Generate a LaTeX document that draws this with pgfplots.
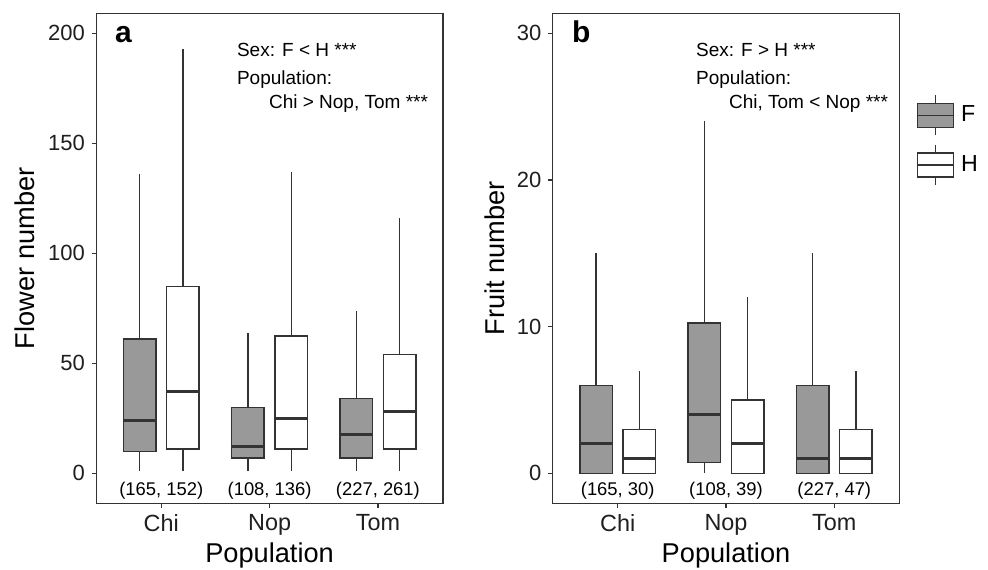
\documentclass[border=0pt]{standalone}
\usepackage{fontspec}
\setmainfont{Liberation Sans}
\usepackage{pgfplots}
\pgfplotsset{compat=1.18}
\usepgfplotslibrary{statistics}

\definecolor{Fgray}{HTML}{999999}
\definecolor{edge}{HTML}{333333}

\tikzset{
  ntext/.style={font=\fontsize{9.2}{11}\selectfont, anchor=center},
  note/.style={font=\fontsize{9.5}{11}\selectfont, anchor=base west},
}

\pgfplotsset{
  panel/.style={
    width=173.3pt, height=245pt, scale only axis,
    xmin=0.4, xmax=3.6,
    xtick={1,2,3}, xticklabels={Chi,Nop,Tom},
    tick align=outside, xtick pos=bottom, ytick pos=left,
    major tick length=2.2pt,
    tick style={edge, line width=0.6pt},
    axis line style={edge, line width=0.75pt},
    /pgf/number format/assume math mode=true,
    yticklabel style={font=\fontsize{11}{13}\selectfont, text=black!88},
    xticklabel style={font=\fontsize{11.7}{14}\selectfont, text=black!88},
    label style={font=\fontsize{13.6}{16}\selectfont},
    xlabel={Population},
    xlabel style={at={(axis description cs:0.5,-0.121)}, anchor=base},
    boxplot/draw direction=y,
    boxplot/box extend=0.3,
    boxplot/whisker extend=0,
    boxplot/every median/.style={line width=1.5pt},
    clip=false,
  },
  Fbox/.style={draw=edge, fill=Fgray, line width=0.75pt, forget plot},
  Hbox/.style={draw=edge, fill=white, line width=0.75pt, forget plot},
  Fkey/.style={legend image code/.code={
      \draw[line width=0.75pt, draw=edge, fill=Fgray] (0pt,-6pt) rectangle (18pt,6pt);
      \draw[line width=0.75pt, draw=edge] (0pt,0pt) -- (18pt,0pt)
        (9pt,6pt) -- (9pt,10pt) (9pt,-6pt) -- (9pt,-10pt);}},
  Hkey/.style={legend image code/.code={
      \draw[line width=0.75pt, draw=edge, fill=white] (0pt,-6pt) rectangle (18pt,6pt);
      \draw[line width=0.75pt, draw=edge] (0pt,0pt) -- (18pt,0pt)
        (9pt,6pt) -- (9pt,10pt) (9pt,-6pt) -- (9pt,-10pt);}},
}

\begin{document}
\begin{tikzpicture}

% a: flower number
\begin{axis}[panel,
  at={(48.15pt,32.85pt)}, anchor=south west,
  ymin=-13.6, ymax=209.1, ytick={0,50,100,150,200},
  ylabel={Flower number},
  ylabel style={at={(axis description cs:-0.206,0.5)}, anchor=center},
]
\addplot[Fbox, boxplot prepared={draw position=0.8, lower whisker=1, lower quartile=10, median=24, upper quartile=61, upper whisker=136}] coordinates {};
\addplot[Hbox, boxplot prepared={draw position=1.2, lower whisker=1, lower quartile=11, median=37, upper quartile=85, upper whisker=193}] coordinates {};
\addplot[Fbox, boxplot prepared={draw position=1.8, lower whisker=1, lower quartile=7, median=12, upper quartile=30, upper whisker=64}] coordinates {};
\addplot[Hbox, boxplot prepared={draw position=2.2, lower whisker=1, lower quartile=11, median=25, upper quartile=62.5, upper whisker=137}] coordinates {};
\addplot[Fbox, boxplot prepared={draw position=2.8, lower whisker=1, lower quartile=7, median=17.5, upper quartile=34, upper whisker=74}] coordinates {};
\addplot[Hbox, boxplot prepared={draw position=3.2, lower whisker=1, lower quartile=11, median=28, upper quartile=54, upper whisker=116}] coordinates {};
\node[ntext] at (axis cs:1,-8) {(165, 152)};
\node[ntext] at (axis cs:2,-8) {(108, 136)};
\node[ntext] at (axis cs:3,-8) {(227, 261)};
\end{axis}

% b: fruit number
\begin{axis}[panel,
  at={(276.35pt,32.85pt)}, anchor=south west,
  ymin=-2.045, ymax=31.36, ytick={0,10,20,30},
  ylabel={Fruit number},
  ylabel style={at={(axis description cs:-0.167,0.5)}, anchor=center},
  legend style={at={(axis description cs:1,0.741)}, anchor=west, xshift=8.5pt,
    draw=none, fill=none, inner sep=0pt, row sep=4pt, column sep=1.5pt,
    font=\fontsize{11.6}{14}\selectfont},
  legend cell align=left,
]
\addplot[Fbox, boxplot prepared={draw position=0.8, lower whisker=0, lower quartile=0, median=2, upper quartile=6, upper whisker=15}] coordinates {};
\addplot[Hbox, boxplot prepared={draw position=1.2, lower whisker=0, lower quartile=0, median=1, upper quartile=3, upper whisker=7}] coordinates {};
\addplot[Fbox, boxplot prepared={draw position=1.8, lower whisker=0, lower quartile=0.75, median=4, upper quartile=10.25, upper whisker=24}] coordinates {};
\addplot[Hbox, boxplot prepared={draw position=2.2, lower whisker=0, lower quartile=0, median=2, upper quartile=5, upper whisker=12}] coordinates {};
\addplot[Fbox, boxplot prepared={draw position=2.8, lower whisker=0, lower quartile=0, median=1, upper quartile=6, upper whisker=15}] coordinates {};
\addplot[Hbox, boxplot prepared={draw position=3.2, lower whisker=0, lower quartile=0, median=1, upper quartile=3, upper whisker=7}] coordinates {};
\node[ntext] at (axis cs:1,-1.2) {(165, 30)};
\node[ntext] at (axis cs:2,-1.2) {(108, 39)};
\node[ntext] at (axis cs:3,-1.2) {(227, 47)};
\addlegendimage{Fkey}\addlegendentry{F}
\addlegendimage{Hkey}\addlegendentry{H}
\end{axis}

% panel letters and test results
\node[anchor=base west, font=\bfseries\fontsize{15}{17}\selectfont] at (54pt,263.3pt) {a};
\node[anchor=base west, font=\bfseries\fontsize{15}{17}\selectfont] at (282.5pt,263.3pt) {b};
\node[note] at (115pt,256pt) {Sex: F < H ***};
\node[note] at (115pt,242.5pt) {Population:};
\node[note] at (131pt,230.5pt) {Chi > Nop, Tom ***};
\node[note] at (344.5pt,256pt) {Sex: F > H ***};
\node[note] at (344.5pt,242.5pt) {Population:};
\node[note] at (361pt,230.5pt) {Chi, Tom < Nop ***};

\pgfresetboundingbox
\path[use as bounding box] (0,0) rectangle (494pt,284.5pt);
\end{tikzpicture}
\end{document}
